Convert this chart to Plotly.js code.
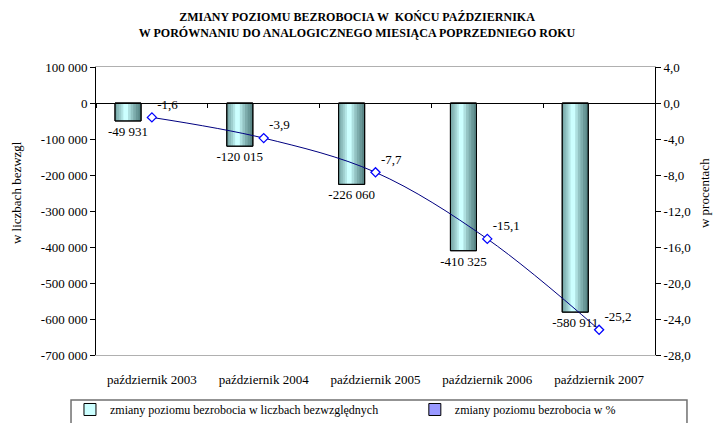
<!DOCTYPE html>
<html>
<head>
<meta charset="utf-8">
<script src="https://cdn.plot.ly/plotly-3.0.1.min.js"></script>
<style>
  html, body { margin: 0; padding: 0; background: #fff; }
  #chart { width: 714px; height: 423px; }
</style>
</head>
<body>
<div id="chart"></div>
<script>
// data
const months = ['październik 2003', 'październik 2004', 'październik 2005', 'październik 2006', 'październik 2007'];
const absChange = [-49931, -120015, -226060, -410325, -580911];
const pctChange = [-1.6, -3.9, -7.7, -15.1, -25.2];
const leftTicks = [100000, 0, -100000, -200000, -300000, -400000, -500000, -600000, -700000];
const rightTicks = [4, 0, -4, -8, -12, -16, -20, -24, -28];

const absName = 'zmiany poziomu bezrobocia w liczbach bezwzględnych';
const pctName = 'zmiany poziomu bezrobocia w %';

function fmtInt(v) {
    const s = String(Math.abs(Math.round(v))).replace(/\B(?=(\d{3})+(?!\d))/g, ' ');
    return (v < 0 ? '-' : '') + s;
}
function fmtPct(v) {
    return v.toFixed(1).replace('.', ',');
}

const serif = 'Liberation Serif';

// bar geometry (category units), bars sit left of the category centre
const barW = 0.233;
const barL = -0.33;

const traces = [];

// main bar with label + legend entry
traces.push({
    type: 'bar', name: absName, x: months, y: absChange,
    xaxis: 'x', yaxis: 'y', legend: 'legend',
    width: barW, offset: barL,
    marker: { color: '#ccffff', line: { color: '#000', width: 1 } },
    text: absChange.map(fmtInt), textposition: 'outside', constraintext: 'none',
    textfont: { family: serif, size: 13, color: '#000' },
    cliponaxis: false, hoverinfo: 'skip'
});

// shading strips to fake the cylinder gradient
for (let k = 1; k <= 4; k++) {
    const w = barW * 0.08 * k;
    traces.push({
        type: 'bar', x: months, y: absChange, showlegend: false, hoverinfo: 'skip',
        width: w, offset: barL,
        marker: { color: 'rgba(30,70,70,0.14)', line: { width: 0 } }
    });
}
for (let k = 1; k <= 5; k++) {
    const w = barW * 0.1 * k;
    traces.push({
        type: 'bar', x: months, y: absChange, showlegend: false, hoverinfo: 'skip',
        width: w, offset: barL + barW - w,
        marker: { color: 'rgba(0,40,40,0.15)', line: { width: 0 } }
    });
}
// outline on top
traces.push({
    type: 'bar', x: months, y: absChange, showlegend: false, hoverinfo: 'skip',
    width: barW, offset: barL,
    marker: { color: 'rgba(0,0,0,0)', line: { color: '#000', width: 1 } }
});

// legend entry for the percent series (square symbol like the original),
// put on a hidden axis so its bars fall outside the plot
traces.push({
    type: 'bar', name: pctName, x: months, y: pctChange,
    xaxis: 'x2', yaxis: 'y3', legend: 'legend2', hoverinfo: 'skip',
    marker: { color: '#9999ff', line: { color: '#000', width: 1 } }
});

// percent line
traces.push({
    type: 'scatter', mode: 'lines+markers+text', name: pctName, showlegend: false,
    x: months, y: pctChange, xaxis: 'x2', yaxis: 'y2',
    line: { color: '#000080', width: 1, shape: 'spline' },
    marker: { symbol: 'diamond', size: 7, color: '#fff', line: { color: '#0000ff', width: 1.3 } },
    text: pctChange.map(fmtPct), textposition: 'top right',
    textfont: { family: serif, size: 13, color: '#000' },
    cliponaxis: false
});

const legendBase = {
    orientation: 'h',
    xref: 'container', xanchor: 'left',
    yref: 'container', y: 0.0662, yanchor: 'top',
    bgcolor: 'rgba(0,0,0,0)', borderwidth: 0,
    itemwidth: 30,
    font: { family: serif, size: 12, color: '#000' }
};

const layout = {
    width: 714, height: 423,
    margin: { l: 96, r: 59, t: 67, b: 68 },
    paper_bgcolor: '#fff', plot_bgcolor: '#fff',
    font: { family: serif, size: 13, color: '#000' },
    barmode: 'overlay',
    showlegend: true,
    title: {
        text: 'ZMIANY POZIOMU BEZROBOCIA W  KOŃCU PAŹDZIERNIKA<br>W PORÓWNANIU DO ANALOGICZNEGO MIESIĄCA POPRZEDNIEGO ROKU',
        font: { family: serif, size: 12, weight: 'bold', color: '#000' },
        xref: 'container', x: 0.5, xanchor: 'center',
        yref: 'container', y: 0.95, yanchor: 'top'
    },
    xaxis: {
        type: 'category', anchor: 'free', position: 0.875,
        showline: true, linecolor: '#000', linewidth: 1,
        ticks: 'outside', tickson: 'boundaries', ticklen: 4, tickcolor: '#000',
        showticklabels: false, showgrid: false, zeroline: false,
        range: [-0.5, 4.5]
    },
    xaxis2: {
        type: 'category', overlaying: 'x', anchor: 'y', side: 'bottom',
        showline: true, linecolor: '#b0b0b0', linewidth: 1, mirror: true,
        ticks: '', showgrid: false, zeroline: false,
        ticklabelstandoff: 12,
        tickfont: { family: serif, size: 13, color: '#000' },
        range: [-0.5, 4.5]
    },
    yaxis: {
        range: [-700000, 100000],
        tickvals: leftTicks, ticktext: leftTicks.map(fmtInt),
        showline: true, linecolor: '#000', linewidth: 1,
        ticks: 'outside', ticklen: 5, tickcolor: '#000',
        showgrid: false, zeroline: false,
        tickfont: { family: serif, size: 13, color: '#000' }
    },
    yaxis2: {
        overlaying: 'y', side: 'right', anchor: 'x',
        range: [-28, 4],
        tickvals: rightTicks, ticktext: rightTicks.map(fmtPct),
        showline: true, linecolor: '#000', linewidth: 1,
        ticks: 'outside', ticklen: 5, tickcolor: '#000',
        showgrid: false, zeroline: false,
        tickfont: { family: serif, size: 13, color: '#000' }
    },
    yaxis3: {
        overlaying: 'y', visible: false, range: [1000, 1001]
    },
    annotations: [
        { text: 'w liczbach bezwzgl', textangle: -90, showarrow: false,
          xref: 'paper', yref: 'paper', x: -0.143, y: 0.5625,
          xanchor: 'center', yanchor: 'middle', font: { family: serif, size: 13, color: '#000' } },
        { text: 'w procentach', textangle: -90, showarrow: false,
          xref: 'paper', yref: 'paper', x: 1.0877, y: 0.5625,
          xanchor: 'center', yanchor: 'middle', font: { family: serif, size: 13, color: '#000' } }
    ],
    // frame around both legend entries, running off the bottom edge like the original
    shapes: [
        { type: 'rect', xref: 'paper', yref: 'paper',
          x0: -0.0447, x1: 1.0572, y0: -0.1563, y1: -0.35,
          line: { color: '#707070', width: 1.5 }, fillcolor: 'rgba(0,0,0,0)' }
    ],
    legend: Object.assign({}, legendBase, { x: 0.098 }),
    legend2: Object.assign({}, legendBase, { x: 0.581 })
};

Plotly.newPlot('chart', traces, layout, { displayModeBar: false, staticPlot: true });
</script>
</body>
</html>
